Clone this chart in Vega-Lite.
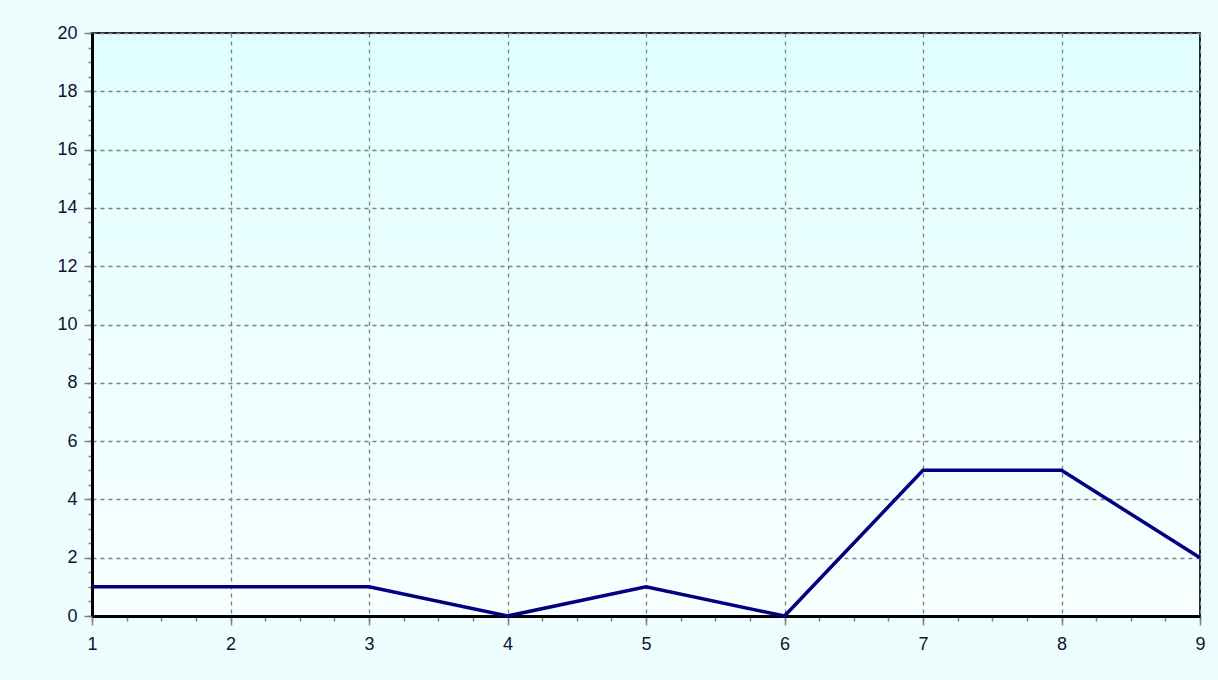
{
  "$schema": "https://vega.github.io/schema/vega-lite/v6.json",
  "width": 1108,
  "height": 583,
  "autosize": {"type": "none"},
  "padding": {"left": 92, "top": 33, "right": 18, "bottom": 64},
  "background": "#eefefe",
  "config": {
    "view": {
      "stroke": "#222222",
      "strokeWidth": 2,
      "fill": {"gradient": "linear", "x1": 0, "y1": 0, "x2": 0, "y2": 1,
        "stops": [{"offset": 0, "color": "#e0ffff"}, {"offset": 1, "color": "#f8ffff"}]}
    },
    "axis": {"labelFont": "Liberation Sans", "labelFontSize": 18, "labelColor": "#111133", "labelFlush": false}
  },
  "data": {"values": [
    {"x": 1, "y": 1}, {"x": 2, "y": 1}, {"x": 3, "y": 1}, {"x": 4, "y": 0},
    {"x": 5, "y": 1}, {"x": 6, "y": 0}, {"x": 7, "y": 5}, {"x": 8, "y": 5}, {"x": 9, "y": 2}
  ]},
  "resolve": {"axis": {"x": "independent", "y": "independent"}},
  "layer": [
    {
      "mark": {"type": "line", "strokeOpacity": 0},
      "encoding": {
        "x": {"field": "x", "type": "quantitative", "scale": {"domain": [1, 9], "nice": false, "zero": false},
          "axis": {"orient": "bottom", "values": [1,1.25,1.5,1.75,2,2.25,2.5,2.75,3,3.25,3.5,3.75,4,4.25,4.5,4.75,5,5.25,5.5,5.75,6,6.25,6.5,6.75,7,7.25,7.5,7.75,8,8.25,8.5,8.75,9],
            "labels": false, "domain": false, "grid": false, "title": null, "tickSize": 5, "tickColor": "#808080", "tickWidth": 1.5}},
        "y": {"field": "y", "type": "quantitative", "scale": {"domain": [0, 20], "nice": false},
          "axis": {"orient": "left", "values": [0,0.5,1,1.5,2,2.5,3,3.5,4,4.5,5,5.5,6,6.5,7,7.5,8,8.5,9,9.5,10,10.5,11,11.5,12,12.5,13,13.5,14,14.5,15,15.5,16,16.5,17,17.5,18,18.5,19,19.5,20],
            "labels": false, "domain": false, "grid": false, "title": null, "tickSize": 4, "tickColor": "#808080", "tickWidth": 1.5}}
      }
    },
    {
      "mark": {"type": "line", "color": "#000080", "strokeWidth": 3.5},
      "encoding": {
        "x": {"field": "x", "type": "quantitative",
          "axis": {"orient": "bottom", "values": [1,2,3,4,5,6,7,8,9], "title": null, "grid": true, "gridColor": "#808080", "gridDash": [4,4], "gridWidth": 1.3,
            "domainColor": "#000000", "domainWidth": 3, "tickSize": 9, "tickColor": "#808080", "tickWidth": 1.5, "labelPadding": 10}},
        "y": {"field": "y", "type": "quantitative",
          "axis": {"orient": "left", "values": [0,2,4,6,8,10,12,14,16,18,20], "title": null, "grid": true, "gridColor": "#808080", "gridDash": [4,4], "gridWidth": 1.3,
            "domainColor": "#000000", "domainWidth": 3, "tickSize": 8, "tickColor": "#808080", "tickWidth": 1.5, "labelPadding": 7}}
      }
    }
  ]
}
